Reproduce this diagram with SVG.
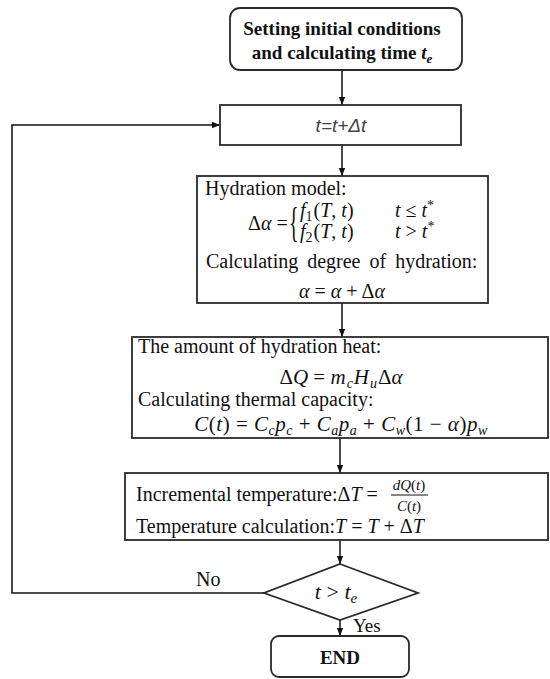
<svg xmlns="http://www.w3.org/2000/svg" width="550" height="679" viewBox="0 0 550 679">
<style>
.box{fill:#fff;stroke:#2a2a2a;stroke-width:1.8}
.ln{fill:none;stroke:#111;stroke-width:1.5}
.t{font-family:"Liberation Serif","Times New Roman",serif;font-size:20px;fill:#111}
.b{font-weight:bold;font-size:19px}
.i{font-style:italic}
.sub{font-size:14px}
.frac{font-size:15px}
.sans{font-family:"Liberation Sans",Arial,sans-serif;font-style:italic;font-size:19px;fill:#444}
</style>
<defs>
<marker id="arr" viewBox="0 0 10 10" refX="10" refY="5" markerWidth="8" markerHeight="8" markerUnits="userSpaceOnUse" orient="auto"><path d="M0,1 L10,5 L0,9 z" fill="#111"/></marker>
</defs>
<rect width="550" height="679" fill="#fff"/>
<g id="connectors">
<line class="ln" x1="342" y1="70" x2="342" y2="105" marker-end="url(#arr)"/>
<line class="ln" x1="342" y1="145" x2="342" y2="176" marker-end="url(#arr)"/>
<line class="ln" x1="342" y1="303" x2="342" y2="337" marker-end="url(#arr)"/>
<line class="ln" x1="340" y1="438" x2="340" y2="473" marker-end="url(#arr)"/>
<line class="ln" x1="340" y1="540" x2="340" y2="564" marker-end="url(#arr)"/>
<line class="ln" x1="340" y1="620" x2="340" y2="636" marker-end="url(#arr)"/>
<polyline class="ln" points="264,593 12,593 12,125 220,125" marker-end="url(#arr)"/>
<text class="t" x="196" y="586">No</text>
<text class="t" x="353" y="632" style="font-size:19px">Yes</text>
</g>
<g id="start">
<rect class="box" x="230" y="8" width="232" height="62" rx="10"/>
<text class="t b" x="342" y="35" text-anchor="middle">Setting initial conditions</text>
<text class="t b" x="342" y="59" text-anchor="middle">and calculating time <tspan class="i">t</tspan><tspan class="i" style="font-size:13px" dy="4">e</tspan></text>
</g>
<g id="step">
<rect class="box" x="220" y="105" width="241" height="40"/>
<text class="sans" x="341" y="132" text-anchor="middle">t=t+Δt</text>
</g>
<g id="hydration">
<rect class="box" x="197" y="176" width="291" height="127"/>
<text class="t" x="205" y="195">Hydration model:</text>
<text class="t" x="248" y="230">Δ<tspan class="i">α</tspan> =</text>
<text class="t" transform="translate(289,236) scale(1,2.15)">{</text>
<text class="t" x="300" y="217"><tspan class="i">f</tspan><tspan class="sub" dy="4">1</tspan><tspan dy="-4" dx="1">(</tspan><tspan class="i">T</tspan>, <tspan class="i">t</tspan>)<tspan x="395" class="i">t</tspan> ≤ <tspan class="i">t</tspan><tspan class="sub" dy="-7">*</tspan></text>
<text class="t" x="300" y="238"><tspan class="i">f</tspan><tspan class="sub" dy="4">2</tspan><tspan dy="-4" dx="1">(</tspan><tspan class="i">T</tspan>, <tspan class="i">t</tspan>)<tspan x="395" class="i">t</tspan> &gt; <tspan class="i">t</tspan><tspan class="sub" dy="-7">*</tspan></text>
<text class="t" x="206" y="268" word-spacing="4">Calculating degree of  hydration:</text>
<text class="t" x="342" y="298" text-anchor="middle"><tspan class="i">α</tspan> = <tspan class="i">α</tspan> + Δ<tspan class="i">α</tspan></text>
</g>
<g id="heat">
<rect class="box" x="132" y="337" width="416" height="101"/>
<text class="t" x="138" y="353">The amount of hydration heat:</text>
<text class="t" x="341" y="384" text-anchor="middle" style="font-size:21px">Δ<tspan class="i">Q</tspan> = <tspan class="i">m</tspan><tspan class="sub i" dy="4" dx="1">c</tspan><tspan class="i" dy="-4" dx="1">H</tspan><tspan class="sub i" dy="4" dx="1">u</tspan><tspan dy="-4" dx="1">Δ</tspan><tspan class="i">α</tspan></text>
<text class="t" x="138" y="406">Calculating thermal capacity:</text>
<text class="t" x="341" y="431" text-anchor="middle" style="font-size:21px;letter-spacing:0.5px"><tspan class="i">C</tspan>(<tspan class="i">t</tspan>) = <tspan class="i">C</tspan><tspan class="sub i" dy="4">c</tspan><tspan class="i" dy="-4">p</tspan><tspan class="sub i" dy="4">c</tspan><tspan dy="-4"> + </tspan><tspan class="i">C</tspan><tspan class="sub i" dy="4">a</tspan><tspan class="i" dy="-4">p</tspan><tspan class="sub i" dy="4">a</tspan><tspan dy="-4"> + </tspan><tspan class="i">C</tspan><tspan class="sub i" dy="4">w</tspan><tspan dy="-4">(1 − </tspan><tspan class="i">α</tspan>)<tspan class="i">p</tspan><tspan class="sub i" dy="4">w</tspan></text>
</g>
<g id="temperature">
<rect class="box" x="125" y="473" width="423" height="67"/>
<text class="t" x="136" y="501">Incremental temperature:Δ<tspan class="i">T</tspan> =</text>
<text class="t frac" x="409" y="490" text-anchor="middle"><tspan class="i">dQ</tspan>(<tspan class="i">t</tspan>)</text>
<line x1="391" y1="495" x2="428" y2="495" stroke="#111" stroke-width="1"/>
<text class="t frac" x="409" y="511" text-anchor="middle"><tspan class="i">C</tspan>(<tspan class="i">t</tspan>)</text>
<text class="t" x="136" y="533">Temperature calculation:<tspan class="i">T</tspan> = <tspan class="i">T</tspan> + Δ<tspan class="i">T</tspan></text>
</g>
<g id="decision">
<polygon class="box" points="340,564 418,593 340,620 264,593"/>
<text class="t" x="336" y="599" text-anchor="middle" style="font-size:22px"><tspan class="i">t</tspan> &gt; <tspan class="i">t</tspan><tspan class="i" style="font-size:15px" dy="4">e</tspan></text>
</g>
<g id="end">
<rect class="box" x="271" y="636" width="138" height="41" rx="8"/>
<text class="t b" x="340" y="664" text-anchor="middle">END</text>
</g>
</svg>
